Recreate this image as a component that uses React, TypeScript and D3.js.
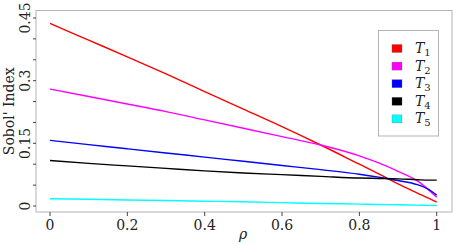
import React from 'react';
import * as d3 from 'd3';

// correlation values on the x axis
const rho = [0, 0.1, 0.2, 0.3, 0.4, 0.5, 0.6, 0.7, 0.8, 0.85, 0.9, 0.95, 0.98, 1];

// total Sobol' indices, one list per input
const T1 = [0.437, 0.397, 0.357, 0.316, 0.274, 0.232, 0.19, 0.146, 0.1, 0.077, 0.053, 0.031, 0.018, 0.009];
const T2 = [0.28, 0.262, 0.244, 0.226, 0.206, 0.186, 0.166, 0.146, 0.12, 0.103, 0.083, 0.06, 0.038, 0.021];
const T3 = [0.157, 0.147, 0.137, 0.127, 0.117, 0.107, 0.097, 0.087, 0.076, 0.069, 0.061, 0.051, 0.039, 0.026];
const T4 = [0.109, 0.102, 0.096, 0.09, 0.084, 0.079, 0.075, 0.071, 0.067, 0.066, 0.065, 0.063, 0.062, 0.062];
const T5 = [0.0175, 0.016, 0.0145, 0.013, 0.0115, 0.01, 0.008, 0.006, 0.0045, 0.0035, 0.003, 0.002, 0.0015, 0.001];

const seriesNames = ['1', '2', '3', '4', '5'];
const seriesColors = ['#ff0000', '#ff00ff', '#0000ff', '#000000', '#00ffff'];
const seriesValues = [T1, T2, T3, T4, T5];

const xTicks = [0, 0.2, 0.4, 0.6, 0.8, 1];
const yTicks = [0, 0.05, 0.1, 0.15, 0.2, 0.25, 0.3, 0.35, 0.4, 0.45];
const yLabels = [0, 0.15, 0.3, 0.45];

const W = 457;
const H = 244;
const txt = {fontFamily: 'DejaVu Serif', fontSize: 14, fill: '#222'};

export default function App() {
  const left = 36, right = 452, top = 10.5, bottom = 212;

  const x = d3.scaleLinear().domain([0, 1]).range([50, 436.7]);
  const y = d3.scaleLinear().domain([0, 0.45]).range([206, 18]);

  const line = d3.line<number>()
    .x((d, i) => x(rho[i]))
    .y(d => y(d))
    .curve(d3.curveMonotoneX);

  return (
    <svg width={W} height={H} style={{position: 'absolute', left: 0, top: 0, background: '#fff'}}>
      {/* frame */}
      <rect x={left} y={top} width={right - left} height={bottom - top} fill="none" stroke="#b3b3b3" strokeWidth={1} />

      {/* y ticks */}
      {yTicks.map(t => (
        <line key={'yt' + t} x1={left - 3} x2={left} y1={y(t)} y2={y(t)} stroke="#444" strokeWidth={1} />
      ))}
      {yLabels.map(t => (
        <text key={'yl' + t} transform={`translate(30,${y(t)}) rotate(-90)`} textAnchor="middle" style={txt}>{String(t)}</text>
      ))}

      {/* x ticks */}
      {xTicks.map(t => (
        <g key={'xt' + t}>
          <line x1={x(t)} x2={x(t)} y1={bottom} y2={bottom + 4} stroke="#444" strokeWidth={1} />
          <text x={x(t)} y={230} textAnchor="middle" style={txt}>{String(t)}</text>
        </g>
      ))}

      {/* axis titles */}
      <text x={243} y={239} textAnchor="middle" style={{...txt, fontStyle: 'italic'}}>ρ</text>
      <text transform={`translate(14,${(top + bottom) / 2}) rotate(-90)`} textAnchor="middle" style={txt}>Sobol' Index</text>

      {/* curves */}
      {seriesValues.map((vals, i) => (
        <path key={'s' + i} d={line(vals) || ''} fill="none" stroke={seriesColors[i]} strokeWidth={1.4} />
      ))}

      {/* legend */}
      <rect x={378.5} y={30.5} width={60} height={105.5} fill="#fff" stroke="#b3b3b3" strokeWidth={1} />
      {seriesNames.map((n, i) => {
        const cy = 48.5 + i * 17.6;
        return (
          <g key={'lg' + n}>
            <rect x={392} y={cy - 4} width={10} height={8} fill={seriesColors[i]} stroke="#666" strokeWidth={0.3} />
            <text x={415} y={cy + 4.5} style={txt}>
              <tspan style={{fontStyle: 'italic'}}>T</tspan>
              <tspan style={{fontSize: 10}} dy={3}>{n}</tspan>
            </text>
          </g>
        );
      })}
    </svg>
  );
}
